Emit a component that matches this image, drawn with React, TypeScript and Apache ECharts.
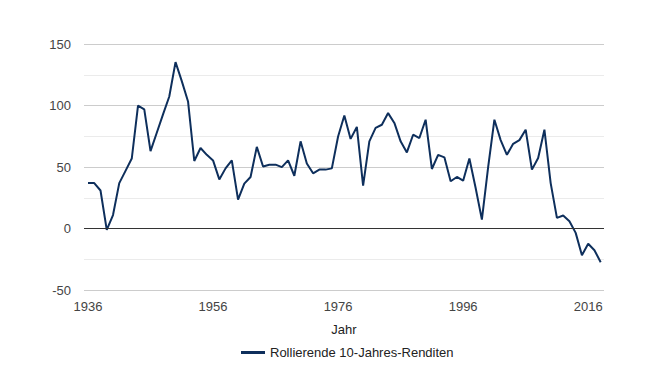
import React, { useEffect, useRef } from "react";
import * as echarts from "echarts";

const startYear = 1936;
const returns = [
  37, 37, 31, -1, 11, 37, 47, 57, 100, 97,
  63, 78, 93, 107.5, 135.5, 120, 103.5, 55, 65.6, 60,
  55.5, 40, 49, 55.5, 23.6, 36.6, 42, 66.5, 50.5, 52,
  52, 50, 55.5, 43, 71, 53, 45, 48, 48, 49,
  75, 92, 73, 82.7, 35, 71, 82, 84.5, 94, 86,
  71, 62, 76.4, 73.7, 88.6, 48.5, 60, 58, 38.5, 42,
  39, 57, 33, 7.3, 50, 88.6, 72, 60, 69, 72,
  80.5, 48, 57.5, 80.5, 37, 8.7, 10.6, 6, -3.5, -21.7,
  -12.4, -17.6, -27.4,
];
const years = returns.map((_, i) => startYear + i);
const xTickLabels = [1936, 1956, 1976, 1996, 2016];
const seriesName = "Rollierende 10-Jahres-Renditen";
const xAxisName = "Jahr";

const FONT = "Arial, 'Liberation Sans', sans-serif";

export default function App() {
  const ref = useRef<HTMLDivElement>(null);
  useEffect(() => {
    if (!ref.current) return;
    const chart = echarts.init(ref.current, undefined, { renderer: "svg" });
    chart.setOption({
      animation: false,
      textStyle: { fontFamily: FONT },
      grid: { left: 84, right: 57, top: 44.3, bottom: 98, containLabel: false },
      legend: {
        bottom: 24,
        left: 236,
        icon: "rect",
        itemWidth: 24,
        itemHeight: 3,
        itemGap: 6,
        textStyle: { fontFamily: FONT, fontSize: 13, color: "#222" },
        data: [seriesName],
      },
      xAxis: {
        type: "value",
        min: 1935.36,
        max: 2018.53,
        name: xAxisName,
        nameLocation: "middle",
        nameGap: 33,
        nameTextStyle: { fontFamily: FONT, fontSize: 13, color: "#222" },
        axisLine: { show: false, onZero: false },
        axisTick: { show: false },
        splitLine: { show: false },
        axisLabel: {
          customValues: xTickLabels,
          margin: 10,
          fontFamily: FONT,
          fontSize: 13,
          color: "#444",
          formatter: (v: number) => String(v),
        },
      },
      yAxis: {
        type: "value",
        min: -50,
        max: 150,
        interval: 50,
        axisLine: { show: false },
        axisTick: { show: false },
        axisLabel: { margin: 13, fontFamily: FONT, fontSize: 13, color: "#444" },
        splitLine: { show: true, lineStyle: { color: "#cccccc", width: 1 } },
        minorTick: { show: false, splitNumber: 2 },
        minorSplitLine: { show: true, lineStyle: { color: "#ebebeb", width: 1 } },
      },
      series: [
        {
          name: seriesName,
          type: "line",
          data: years.map((y, i) => [y, returns[i]]),
          showSymbol: false,
          symbol: "none",
          lineStyle: { color: "#0e2f5c", width: 2 },
          itemStyle: { color: "#0e2f5c" },
          markLine: {
            silent: true,
            symbol: "none",
            label: { show: false },
            lineStyle: { color: "#333", width: 1, type: "solid" },
            data: [{ yAxis: 0 }],
          },
          z: 3,
        },
      ],
    });
    return () => chart.dispose();
  }, []);
  return (
    <div
      ref={ref}
      style={{ position: "fixed", left: 0, top: 0, width: 661, height: 388, background: "#fff" }}
    />
  );
}
